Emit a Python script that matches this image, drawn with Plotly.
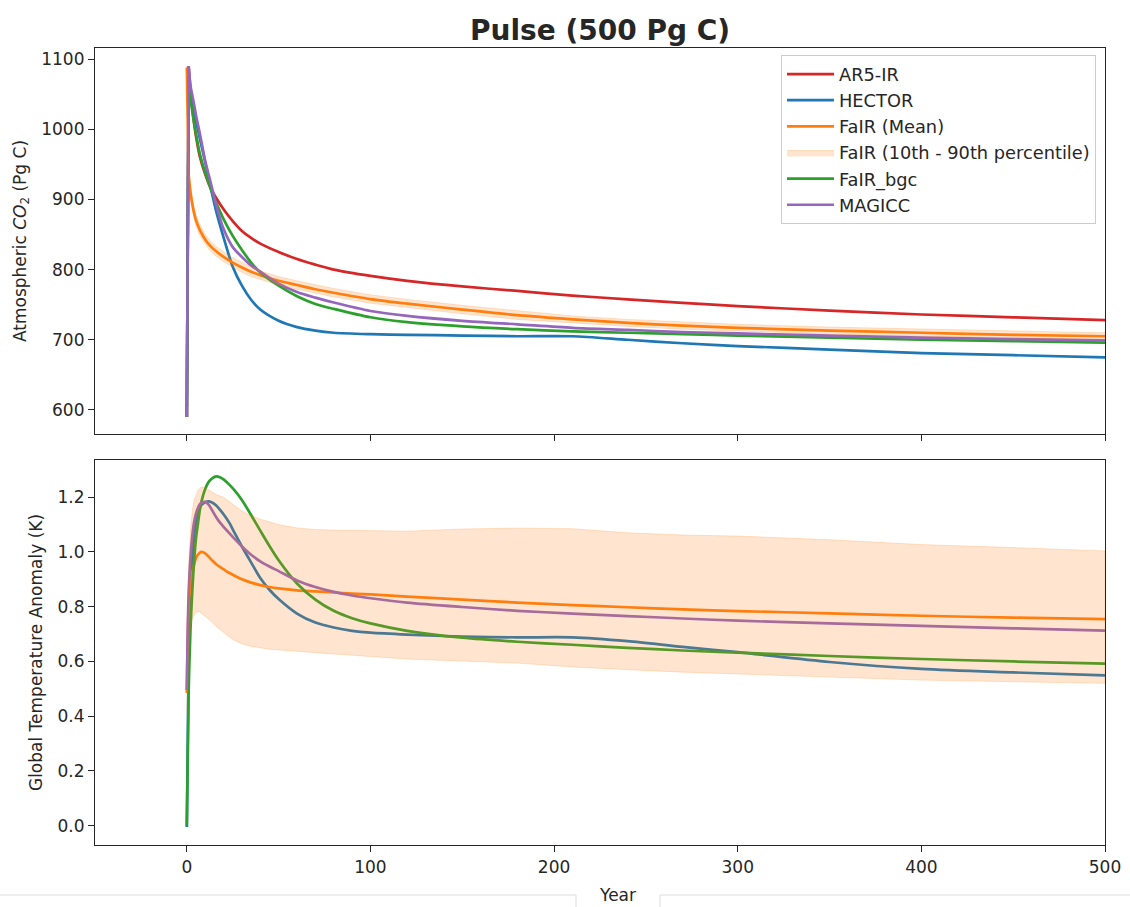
import plotly.graph_objects as go

# ---------------- data ----------------
years_top = [0, 1, 2, 3, 4, 5, 7, 10, 13, 16, 20, 25, 30, 35, 40, 50, 60, 70, 80,
             100, 120, 150, 180, 210, 240, 270, 300, 350, 400, 450, 500]
co2_ar5 = [590, 1090, 1057, 1030, 1008, 990, 962, 936, 916, 902, 886, 869, 855, 845, 837,
           825, 815, 807, 800, 791, 784, 776, 769.5, 763, 757.5, 752.5, 748, 741.5, 736, 732, 728]
co2_hector = [590, 1065, 1048, 1036, 1024, 1012, 988, 953, 917, 883, 846, 804, 777, 757, 743,
              727, 718, 713, 710, 708, 707, 706, 705, 705, 700, 695, 691, 686, 681, 678, 675]
co2_fair_mean = [1088, 935, 910, 893, 880, 870, 857, 843, 833, 826, 818, 810, 803, 797, 792,
                 784, 778, 772, 767, 758, 751.5, 743, 735, 729, 724, 720, 717, 713, 710, 707, 705]
co2_fair_hi = [1090, 943, 918, 901, 888, 878, 865, 850, 840, 833, 825, 817, 810, 804, 798,
               790, 784, 778, 773, 764, 757.5, 749, 741, 734, 729, 725, 722, 718, 715, 712, 710]
co2_fair_lo = [1086, 927, 902, 885, 872, 862, 849, 836, 826, 819, 811, 803, 796, 790, 786,
               778, 772, 766, 761, 752, 745.5, 737, 729, 724, 719, 715, 712, 708, 705, 702, 700]
co2_fair_bgc = [590, 1075, 1045, 1025, 1008, 993, 966, 938, 915, 895, 872, 848, 828, 810, 796,
                777, 762, 751, 744, 732, 725, 719, 715, 712, 710, 708, 706, 703, 700, 698, 696]
co2_magicc = [590, 1090, 1062, 1048, 1035, 1020, 995, 955, 924, 892, 858, 832, 818, 806, 797,
              780, 768, 760, 753, 741, 734, 727, 722, 717, 714, 711, 709, 706, 703, 701, 699]

years_bot = [0, 1, 2, 3, 4, 5, 6, 7, 8, 10, 12, 14, 16, 18, 20, 23, 26, 30, 35, 40, 45, 50,
             60, 70, 80, 90, 100, 120, 150, 180, 210, 240, 270, 300, 350, 400, 450, 500]
t_hector = [-0.005, 0.6, 0.85, 0.98, 1.06, 1.11, 1.14, 1.16, 1.172, 1.182, 1.185, 1.18, 1.17,
            1.155, 1.138, 1.108, 1.07, 1.02, 0.962, 0.905, 0.862, 0.828, 0.775, 0.742, 0.724,
            0.712, 0.705, 0.698, 0.691, 0.688, 0.688, 0.674, 0.653, 0.634, 0.598, 0.573, 0.56, 0.549]
t_fair_mean = [0.485, 0.80, 0.88, 0.925, 0.955, 0.978, 0.99, 0.997, 1.0, 0.995, 0.982, 0.968,
               0.955, 0.946, 0.937, 0.924, 0.913, 0.9, 0.888, 0.879, 0.872, 0.867, 0.86, 0.856,
               0.852, 0.848, 0.845, 0.837, 0.826, 0.815, 0.806, 0.798, 0.79, 0.784, 0.776, 0.767,
               0.76, 0.755]
t_fair_hi = [0.50, 0.95, 1.08, 1.15, 1.19, 1.21, 1.225, 1.232, 1.238, 1.235, 1.225, 1.218, 1.21,
             1.205, 1.2, 1.185, 1.17, 1.15, 1.133, 1.12, 1.11, 1.1, 1.088, 1.082, 1.08, 1.079,
             1.078, 1.076, 1.084, 1.087, 1.085, 1.07, 1.062, 1.058, 1.045, 1.027, 1.016, 1.004]
t_fair_lo = [0.40, 0.64, 0.727, 0.755, 0.77, 0.778, 0.782, 0.782, 0.775, 0.765, 0.755, 0.742,
             0.728, 0.716, 0.705, 0.69, 0.677, 0.665, 0.655, 0.65, 0.645, 0.641, 0.637, 0.632,
             0.627, 0.622, 0.618, 0.609, 0.601, 0.594, 0.58, 0.57, 0.561, 0.554, 0.543, 0.532,
             0.525, 0.52]
t_fair_bgc = [0.0, 0.49, 0.72, 0.86, 0.97, 1.05, 1.10, 1.15, 1.185, 1.23, 1.257, 1.27, 1.276,
              1.273, 1.265, 1.247, 1.225, 1.19, 1.135, 1.078, 1.022, 0.97, 0.885, 0.826, 0.785,
              0.758, 0.739, 0.712, 0.687, 0.672, 0.661, 0.65, 0.64, 0.632, 0.62, 0.609, 0.6, 0.592]
t_magicc = [0.496, 0.85, 0.98, 1.06, 1.11, 1.14, 1.16, 1.173, 1.18, 1.183, 1.172, 1.15, 1.127,
            1.108, 1.092, 1.07, 1.048, 1.02, 0.99, 0.966, 0.947, 0.93, 0.896, 0.872, 0.854,
            0.841, 0.831, 0.815, 0.799, 0.785, 0.775, 0.766, 0.757, 0.749, 0.739, 0.73, 0.721, 0.713]

x_ticks = [0, 100, 200, 300, 400, 500]
co2_ticks = [600, 700, 800, 900, 1000, 1100]
temp_ticks = [0.0, 0.2, 0.4, 0.6, 0.8, 1.0, 1.2]

# ---------------- style ----------------
FONT = "DejaVu Sans"
INK = "#262626"
C_RED, C_BLUE, C_ORANGE, C_GREEN, C_PURPLE = "#d62728", "#1f77b4", "#ff7f0e", "#2ca02c", "#9467bd"
BAND_FILL = "rgba(255,127,14,0.2)"
BAND_EDGE = "rgba(255,127,14,0.2)"
LW = 2.7

W, H = 1130, 907
L, R, T, B = 95, 25, 48, 62
plot_h = H - T - B


def py2paper(py):
    return (H - B - py) / plot_h


def px2paper(px):
    return (px - L) / (W - L - R)


fig = go.Figure()


def axes_for(panel):
    return ("x2", "y2") if panel == "top" else ("x", "y")


def add_line(x, y, name, color, panel, show, rank, jump=False):
    xa, ya = axes_for(panel)
    if jump:
        # the step at the pulse year is drawn straight, the rest smoothed
        fig.add_trace(go.Scatter(
            x=x[:2], y=y[:2], mode="lines", line=dict(color=color, width=LW),
            xaxis=xa, yaxis=ya, showlegend=False, legendgroup=name, hoverinfo="skip"))
        x, y = x[1:], y[1:]
    fig.add_trace(go.Scatter(
        x=x, y=y, name=name, mode="lines",
        line=dict(color=color, width=LW, shape="spline", smoothing=0.8),
        xaxis=xa, yaxis=ya,
        showlegend=show, legendgroup=name, legendrank=rank,
    ))


def add_band(x, lo, hi, panel, show):
    xa, ya = axes_for(panel)
    fig.add_trace(go.Scatter(
        x=list(x) + list(x)[::-1], y=list(hi) + list(lo)[::-1],
        name="FaIR (10th - 90th percentile)", mode="lines", fill="toself",
        fillcolor=BAND_FILL, line=dict(color=BAND_EDGE, width=1),
        xaxis=xa, yaxis=ya,
        showlegend=show, legendgroup="band", legendrank=4,
    ))


# top panel
add_line(years_top, co2_ar5, "AR5-IR", C_RED, "top", True, 1, jump=True)
add_line(years_top, co2_hector, "HECTOR", C_BLUE, "top", True, 2, jump=True)
add_line(years_top, co2_fair_mean, "FaIR (Mean)", C_ORANGE, "top", True, 3, jump=True)
add_line(years_top, co2_fair_bgc, "FaIR_bgc", C_GREEN, "top", True, 5, jump=True)
add_line(years_top, co2_magicc, "MAGICC", C_PURPLE, "top", True, 6, jump=True)
add_band(years_top, co2_fair_lo, co2_fair_hi, "top", True)

# bottom panel
add_line(years_bot, t_hector, "HECTOR", C_BLUE, "bot", False, 2)
add_line(years_bot, t_fair_mean, "FaIR (Mean)", C_ORANGE, "bot", False, 3)
add_line(years_bot, t_fair_bgc, "FaIR_bgc", C_GREEN, "bot", False, 5)
add_line(years_bot, t_magicc, "MAGICC", C_PURPLE, "bot", False, 6)
add_band(years_bot, t_fair_lo, t_fair_hi, "bot", False)

axis_common = dict(
    showline=True, linecolor=INK, linewidth=1.25, mirror=True,
    ticks="outside", ticklen=6, tickwidth=1.25, tickcolor=INK,
    showgrid=False, zeroline=False,
    tickfont=dict(family=FONT, size=17, color=INK),
)

top_dom = [py2paper(434), 1.0]
bot_dom = [0.0, py2paper(460)]

fig.update_layout(
    width=W, height=H,
    margin=dict(l=L, r=R, t=T, b=B, autoexpand=False),
    paper_bgcolor="white", plot_bgcolor="white",
    font=dict(family=FONT, size=17, color=INK),
    title=dict(text="Pulse (500 Pg C)", x=0.5, xref="paper", xanchor="center",
               y=1 - 30 / H, yref="container", yanchor="middle",
               font=dict(family=FONT, size=28, color=INK, weight="bold")),
    xaxis=dict(axis_common, domain=[0, 1], anchor="y", range=[-50, 500],
               tickvals=x_ticks),
    xaxis2=dict(axis_common, domain=[0, 1], anchor="y2", range=[-50, 500],
                tickvals=x_ticks, showticklabels=False, matches="x"),
    yaxis=dict(axis_common, domain=bot_dom, anchor="x", range=[-0.0705, 1.336],
               tickvals=temp_ticks, tickformat=".1f",
               title=dict(text="Global Temperature Anomaly (K)", standoff=10,
                          font=dict(family=FONT, size=17, color=INK))),
    yaxis2=dict(axis_common, domain=top_dom, anchor="x2", range=[565.7, 1115.7],
                tickvals=co2_ticks,
                title=dict(text="Atmospheric <i>CO</i><sub>2</sub> (Pg C)", standoff=10,
                           font=dict(family=FONT, size=17, color=INK))),
    legend=dict(x=px2paper(1096), xanchor="right", y=py2paper(55), yanchor="top",
                bgcolor="rgba(255,255,255,0.8)", bordercolor="#cccccc", borderwidth=1,
                font=dict(family=FONT, size=17.8, color=INK), tracegroupgap=0,
                itemwidth=47),
    showlegend=True,
)

# "Year" label sitting in a tab of light rule lines at the bottom
tab_color = "#dddddd"
x0, x1 = px2paper(0), px2paper(W)
xa_, xb_ = px2paper(576), px2paper(660)
yl, ybot = py2paper(895), py2paper(H)
for (sx0, sy0, sx1, sy1) in [(x0, yl, xa_, yl), (xb_, yl, x1, yl),
                             (xa_, yl, xa_, ybot), (xb_, yl, xb_, ybot)]:
    fig.add_shape(type="line", xref="paper", yref="paper", x0=sx0, y0=sy0, x1=sx1, y1=sy1,
                  line=dict(color=tab_color, width=1))
fig.add_annotation(text="Year", xref="paper", yref="paper", x=px2paper(617), y=py2paper(895),
                   xanchor="center", yanchor="middle", showarrow=False,
                   font=dict(family=FONT, size=17, color=INK))

fig.write_html("out.html")
